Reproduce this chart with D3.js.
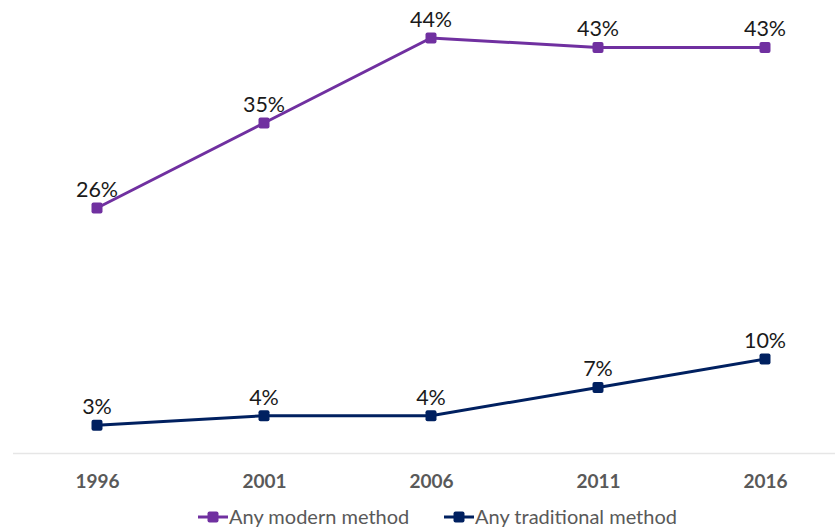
<!DOCTYPE html>
<html>
<head>
<meta charset="utf-8">
<script src="https://cdn.jsdelivr.net/npm/d3@7"></script>
<style>
  html, body { margin: 0; padding: 0; background: #ffffff; }
  svg { display: block; }
</style>
</head>
<body>
<svg id="chart" width="835" height="528"></svg>
<script>
// Contraceptive method use by survey year
const years = ["1996", "2001", "2006", "2011", "2016"];
const modernValues = [26, 35, 44, 43, 43];
const traditionalValues = [3, 4, 4, 7, 10];
const seriesNames = ["Any modern method", "Any traditional method"];
const seriesColors = ["#7030A0", "#002060"];

const series = [
  { name: seriesNames[0], values: modernValues, color: seriesColors[0] },
  { name: seriesNames[1], values: traditionalValues, color: seriesColors[1] }
];

const W = 835, H = 528;
const font = "Lato, Carlito, 'Open Sans', sans-serif";
const svg = d3.select("#chart");

const x = d3.scalePoint().domain(years).range([97, 765]);
const y = d3.scaleLinear().domain([0, 44]).range([453.5, 38]);

// Horizontal axis line
svg.append("line")
  .attr("x1", 13).attr("x2", W)
  .attr("y1", y(0)).attr("y2", y(0))
  .attr("stroke", "#e6e6e6").attr("stroke-width", 1.5);

// Category labels
const xAxis = d3.axisBottom(x).tickSize(0).tickPadding(0);
const gx = svg.append("g").attr("transform", `translate(0,${y(0)})`).call(xAxis);
gx.select(".domain").remove();
gx.selectAll("text")
  .attr("dy", null)
  .attr("y", 34)
  .attr("font-family", font)
  .attr("font-size", 19)
  .attr("font-weight", "bold")
  .attr("fill", "#595959");

const line = d3.line().x((d, i) => x(years[i])).y(d => y(d));

series.forEach(s => {
  const g = svg.append("g");
  g.append("path")
    .datum(s.values)
    .attr("d", line)
    .attr("fill", "none")
    .attr("stroke", s.color)
    .attr("stroke-width", 3);
  g.selectAll("rect")
    .data(s.values)
    .join("rect")
    .attr("x", (d, i) => x(years[i]) - 5.5)
    .attr("y", d => y(d) - 5.5)
    .attr("width", 11).attr("height", 11)
    .attr("rx", 2)
    .attr("fill", s.color);
  g.selectAll("text")
    .data(s.values)
    .join("text")
    .attr("x", (d, i) => x(years[i]))
    .attr("y", d => y(d) - 11)
    .attr("text-anchor", "middle")
    .attr("font-family", font)
    .attr("font-size", 21.5)
    .attr("fill", "#1a1a1a")
    .text(d => d + "%");
});

// Legend
const legendX = [198, 444];
series.forEach((s, i) => {
  const lg = svg.append("g").attr("transform", `translate(${legendX[i]},517)`);
  lg.append("line").attr("x1", 0).attr("x2", 30).attr("y1", 0).attr("y2", 0)
    .attr("stroke", s.color).attr("stroke-width", 3);
  lg.append("rect").attr("x", 9.5).attr("y", -5.5).attr("width", 11).attr("height", 11)
    .attr("rx", 2).attr("fill", s.color);
  lg.append("text").attr("x", 31).attr("y", 7)
    .attr("font-family", font).attr("font-size", 20).attr("fill", "#595959")
    .text(s.name);
});
</script>
</body>
</html>
